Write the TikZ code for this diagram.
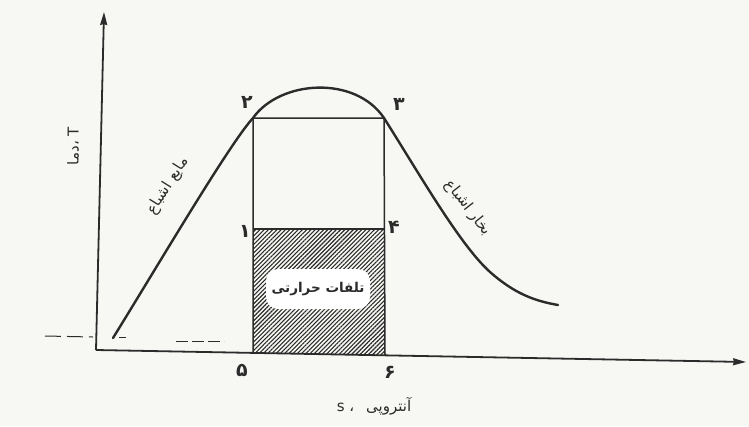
\documentclass[tikz,border=0pt]{standalone}
\usepackage{fontspec}
\usepackage{tikz}
\usetikzlibrary{arrows.meta,patterns.meta}
\newfontfamily\fafont[Script=Arabic]{DejaVu Sans}
\TeXXeTstate=1
\definecolor{ink}{HTML}{2B2B2B}
\definecolor{paper}{HTML}{F7F7F4}

\begin{document}
\begin{tikzpicture}[x=1pt,y=-1pt,>={Stealth[length=13pt,width=7pt,inset=1pt]},
  axis/.style={draw=ink,line width=1.8pt},
  satline/.style={draw=ink,line width=2.4pt,line cap=round},
  cycle line/.style={draw=ink,line width=1.5pt},
  num/.style={font=\fafont\bfseries\fontsize{19}{19}\selectfont,text=ink,inner sep=1pt},
  fa/.style={font=\fafont\fontsize{15}{15}\selectfont,text=ink,inner sep=1pt},
  guide/.style={draw=ink,line width=1pt,dash pattern=on 16pt off 6pt}]
\useasboundingbox[fill=paper] (0,0) rectangle (749,426);
% corners of the cycle
\coordinate (O) at (96,350);
\coordinate (Ttip) at (104,12);
\coordinate (Stip) at (746,362);
\coordinate (p1) at (253,229);
\coordinate (p2) at (253,118);
\coordinate (p3) at (384,118);
\coordinate (p4) at (384,229);
\coordinate (p5) at (253,353);
\coordinate (p6) at (385,355);
\coordinate (foot) at (113,338);
\coordinate (tail) at (558,305);
% heat loss area
\fill[pattern={Lines[angle=45,distance=3pt,line width=1.1pt]},pattern color=ink]
  (p1) -- (p4) -- (p6) -- (p5) -- cycle;
\node[fill=white,rounded corners=12pt,minimum width=104pt,minimum height=40pt,fa,
  font=\fafont\bfseries\fontsize{13.5}{13.5}\selectfont] (loss) at (318,289) {\beginR تلفات حرارتی\endR};
\draw[cycle line] (p5) -- (p2) -- (p3) -- (p6);
\draw[cycle line] (p1) -- (p4);
% axes
\draw[axis,->] (O) -- (Ttip);
\draw[axis,->] (O) -- (Stip);
% saturation dome
\draw[satline] (foot) .. controls (160,262) and (230,143) .. (p2)
  .. controls (280,80) and (355,75) .. (p3)
  .. controls (420,175) and (460,245) .. (490,272)
  .. controls (515,294) and (535,301) .. (tail);
% reference dashes
\draw[guide] (45,336) -- (93,337);
\draw[ink,line width=1pt] (119,337) -- (126,337);
\draw[guide,dash pattern=on 12pt off 4pt] (176,341) -- (224,341);
% labels
\node[num] (n1) at (245,231) {۱};
\node[num] (n2) at (247,102) {۲};
\node[num] (n3) at (399,104) {۳};
\node[num] (n4) at (394,227) {۴};
\node[num] (n5) at (242,370) {۵};
\node[num] (n6) at (390,372) {۶};
\node[fa,rotate=58] (liq) at (168,186) {\beginR مایع اشباع\endR};
\node[fa,rotate=-52] (vap) at (468,208) {\beginR بخار اشباع\endR};
\node[fa,rotate=90] (tlab) at (73,146) {\beginR T ،دما\endR};
\node[fa] (slab) at (374,406) {\beginR آنتروپی\hspace{12pt}، s\endR};
\end{tikzpicture}
\end{document}
